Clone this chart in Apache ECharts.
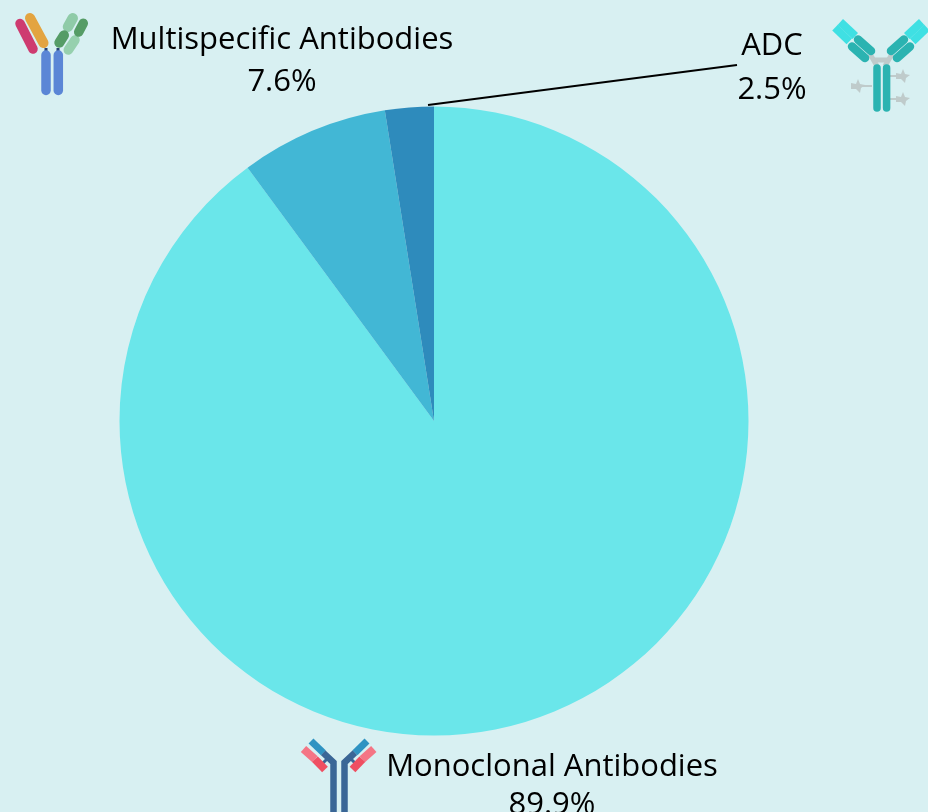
<!DOCTYPE html>
<html><head><meta charset="utf-8">
<style>html,body{margin:0;padding:0;background:#D8F0F2;overflow:hidden}#c{width:928px;height:812px}</style>
<script src="https://cdn.jsdelivr.net/npm/echarts@6/dist/echarts.min.js"></script></head>
<body><div id="c"></div>
<script>
const categories = ['Monoclonal Antibodies', 'Multispecific Antibodies', 'ADC'];
const shares = [89.9, 7.6, 2.5];
const colors = ['#6AE6EA', '#42B7D5', '#2E8BBC'];
const labelPlaces = [[552, 786], [282, 61], [772, 68]];
const labelLineHeights = [38, 42, 44];
const font = 'Open Sans';

function bar(x1, y1, x2, y2, w, color) {
  return { type: 'line', shape: { x1, y1, x2, y2 }, style: { stroke: color, lineWidth: w, lineCap: 'round' } };
}
function sq(x1, y1, x2, y2, w, color) {
  return { type: 'line', shape: { x1, y1, x2, y2 }, style: { stroke: color, lineWidth: w, lineCap: 'butt' } };
}
function star(cx, cy) {
  return { type: 'polygon', shape: { points: [[cx-7,cy-3],[cx-2,cy-2],[cx,cy-7],[cx+2,cy-2],[cx+7,cy-1],[cx+3,cy+2],[cx+2,cy+7],[cx-2,cy+3],[cx-7,cy+3]] }, style: { fill: '#BFCBCB' } };
}
const icons = [
  // multispecific
  bar(20, 23.5, 33, 49, 9.5, '#CE3B70'), bar(30, 18, 43.5, 43, 10, '#E3A440'),
  sq(46, 48, 46, 54, 3, '#274070'), sq(58, 48, 58, 54, 3, '#274070'),
  bar(46, 55, 46, 90.5, 9.5, '#5B86D6'), bar(58.3, 55, 58.3, 90.5, 9.5, '#5B86D6'),
  bar(72.7, 18.3, 68, 26.7, 10.5, '#8FCBA8'), bar(75, 40, 68.3, 50, 9.5, '#96D0AE'),
  bar(59.3, 42.7, 64, 35.3, 10, '#559C66'), bar(83.3, 23.3, 78.7, 32, 9.5, '#559C66'),
  // ADC
  sq(870, 54, 877, 66, 5, '#BFCBCB'), sq(892, 54, 885, 66, 5, '#BFCBCB'), sq(873, 60, 889, 60, 5, '#BFCBCB'),
  sq(872, 86, 858, 86, 2, '#BFCBCB'), sq(890, 76, 903, 76, 2, '#BFCBCB'), sq(890, 99, 903, 99, 2, '#BFCBCB'),
  star(858, 86), star(903, 76), star(903, 99),
  bar(877, 68, 877, 108, 7.5, '#2BB3B1'), bar(886.6, 68, 886.6, 108, 7.5, '#2BB3B1'),
  bar(858, 39.5, 871, 51, 8.5, '#2BB3B1'), bar(852, 46.5, 865, 58, 8.5, '#2BB3B1'),
  bar(904, 39.5, 891, 51, 8.5, '#2BB3B1'), bar(910, 46.5, 897, 58, 8.5, '#2BB3B1'),
  sq(840.3, 22, 855.3, 36, 8, '#3FE0E3'), sq(835, 27.7, 849.3, 41.3, 8, '#3FE0E3'),
  sq(921.7, 22, 906.7, 36, 8, '#3FE0E3'), sq(927, 27.7, 912.7, 41.3, 8, '#3FE0E3'),
  // monoclonal
  { type: 'polyline', shape: { points: [[323, 752.7], [333.5, 762.5], [333.5, 812]] }, style: { stroke: '#3A6696', lineWidth: 6.5, fill: null } },
  { type: 'polyline', shape: { points: [[355, 752.7], [344.5, 762.5], [344.5, 812]] }, style: { stroke: '#3A6696', lineWidth: 6.5, fill: null } },
  sq(322, 764, 329, 757, 3, '#3A6696'), sq(356, 764, 349, 757, 3, '#3A6696'),
  sq(311, 741, 323.3, 752.7, 7, '#2F93C2'), sq(367, 741, 355, 752.7, 7, '#2F93C2'),
  sq(303.5, 749, 315, 759.3, 8, '#F47585'), sq(315, 759.3, 325, 769.5, 8, '#EF4F62'),
  sq(373.8, 749, 362.3, 759.3, 8, '#F47585'), sq(362.3, 759.3, 352.5, 769.5, 8, '#EF4F62')
];

const chart = echarts.init(document.getElementById('c'), null, { renderer: 'canvas' });
chart.setOption({
  backgroundColor: '#D8F0F2',
  animation: false,
  color: colors,
  graphic: icons,
  series: [{
    type: 'pie',
    center: [434, 421],
    radius: [0, 314.5],
    startAngle: 90,
    clockwise: true,
    data: categories.map((name, i) => ({
      name, value: shares[i],
      label: { lineHeight: labelLineHeights[i] },
      labelLine: { show: i === 2, lineStyle: { color: '#000', width: 2 } }
    })),
    label: {
      show: true, formatter: p => p.name + '\n' + p.value + '%',
      fontFamily: font, fontSize: 31, color: '#000', align: 'center',
      overflow: 'none', width: 500
    },
    labelLine: { show: false },
    labelLayout: p => {
      const [x, y] = labelPlaces[p.dataIndex];
      const out = { x, y, align: 'center', verticalAlign: 'middle', hideOverlap: false };
      if (p.dataIndex === 2) out.labelLinePoints = [[428, 105], [737, 65], [737, 65]];
      return out;
    },
    emphasis: { disabled: true }
  }]
});
</script></body></html>
